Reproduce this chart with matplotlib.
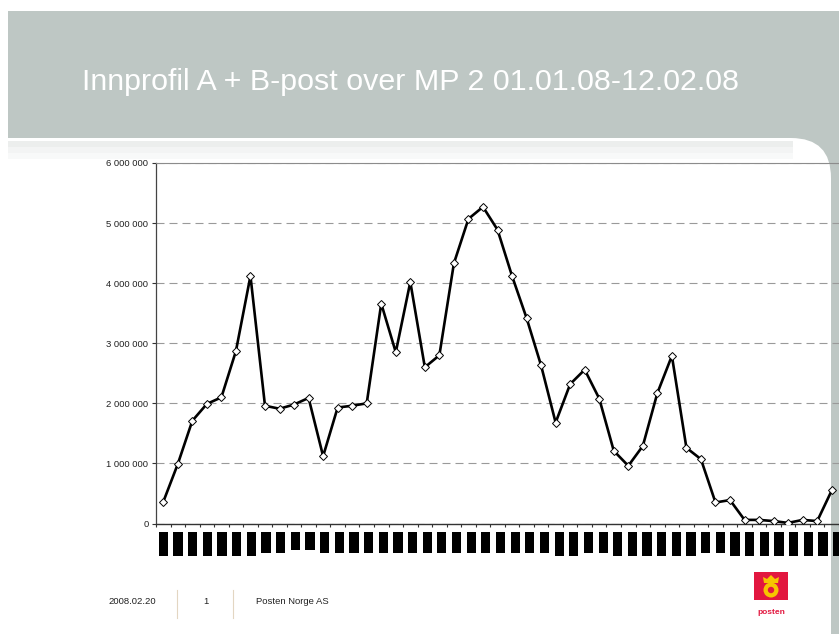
import numpy as np
import matplotlib
matplotlib.use("Agg")
import matplotlib.pyplot as plt
from matplotlib.patches import Rectangle, FancyBboxPatch, Circle, Polygon

plt.rcParams["font.family"] = "Liberation Sans"

# daily volume A + B-post over MP 2
values = [360000, 990000, 1710000, 1990000, 2100000, 2870000, 4120000,
          1960000, 1910000, 1980000, 2090000, 1120000, 1930000, 1960000,
          2000000, 3660000, 2850000, 4020000, 2600000, 2800000, 4330000,
          5070000, 5270000, 4890000, 4120000, 3420000, 2630000, 1680000,
          2320000, 2560000, 2080000, 1210000, 960000, 1290000, 2170000,
          2790000, 1260000, 1070000, 350000, 390000, 60000, 60000,
          40000, 10000, 60000, 40000, 550000]

# the x labels come out as black blocks; length of each block
block_len = [8, 8, 8, 8, 8, 8, 8, 7, 7, 6, 6, 7, 7, 7, 7, 7, 7, 7, 7, 7,
             7, 7, 7, 7, 7, 7, 7, 8, 8, 7, 7, 8, 8, 8, 8, 8, 8, 7, 7, 8,
             8, 8, 8, 8, 8, 8, 8]

y_ticks = [0, 1000000, 2000000, 3000000, 4000000, 5000000, 6000000]
y_labels = ["0", "1 000 000", "2 000 000", "3 000 000", "4 000 000",
            "5 000 000", "6 000 000"]

title = "Innprofil A + B-post over MP 2 01.01.08-12.02.08"
footer = ["2008.02.20", "1", "Posten Norge AS"]

W, H = 839, 634
fig = plt.figure(figsize=(W / 100, H / 100), dpi=100)
fig.patch.set_facecolor("white")


def fx(x):
    return x / W


def fy(y):
    return 1 - y / H


# slide background: grey header band + rounded white card
gray = "#bec7c4"
fig.add_artist(Rectangle((8, 0), W - 8, H - 11, transform=None,
                         facecolor=gray, edgecolor="none", zorder=-10))
fig.add_artist(FancyBboxPatch((-60, -66), 891, H - 138 + 66, transform=None,
                              boxstyle="round,pad=0,rounding_size=40",
                              facecolor="white", edgecolor="none", zorder=-9))
# faint shadow under the band
for i, c in enumerate(["#eceeed", "#f3f4f4", "#f8f9f9"]):
    fig.add_artist(Rectangle((8, H - 141 - 6 * (i + 1)), 785, 6,
                             transform=None, facecolor=c,
                             edgecolor="none", zorder=-8))

fig.text(fx(82), fy(89.5), title, color="white", fontsize=21.9,
         ha="left", va="baseline")

# main chart
x = np.arange(len(values))
x_right = -0.5 + (W - 156) / 14.66

ax = fig.add_axes([fx(156), fy(523.5), 1 - fx(156), (523.5 - 163) / H])
ax.set_facecolor("none")
ax.plot(x, values, color="black", lw=1.9, marker="D", markersize=3.8,
        markerfacecolor="white", markeredgecolor="black",
        markeredgewidth=0.7, zorder=3)
ax.set_xlim(-0.5, x_right)
ax.set_ylim(0, 6000000)
ax.set_yticks(y_ticks)
ax.set_yticklabels(y_labels)
ax.set_xticks(np.arange(-0.5, len(values) + 0.5, 1))
ax.set_xticklabels([])
ax.tick_params(axis="y", length=2.9, width=0.8, pad=2.5, labelsize=6.8,
               color="#333333", labelcolor="#222222")
ax.tick_params(axis="x", length=2.3, width=0.8, color="#333333")
ax.grid(axis="y", color="#9a9a9a", lw=0.8, linestyle=(0, (7.2, 4.5)))
ax.set_axisbelow(True)
ax.spines["right"].set_visible(False)
ax.spines["top"].set_color("#8c8c8c")
ax.spines["top"].set_linewidth(0.8)
ax.spines["top"].set_linestyle((0, (9, 1)))
ax.spines["left"].set_color("#444444")
ax.spines["left"].set_linewidth(0.9)
ax.spines["bottom"].set_color("#333333")
ax.spines["bottom"].set_linewidth(1.0)

# black label blocks under the axis
ax2 = fig.add_axes([fx(156), fy(556), 1 - fx(156), 24.3 / H])
ax2.set_facecolor("none")
ax2.bar(x, block_len, width=0.63, color="black")
ax2.set_xlim(-0.5, x_right)
ax2.set_ylim(8, 0)
ax2.axis("off")

# footer
fig.text(fx(108), fy(601), footer[0], fontsize=6.8, color="#222222",
         ha="left", va="center")
fig.text(fx(205.5), fy(601), footer[1], fontsize=6.8, color="#222222",
         ha="center", va="center")
fig.text(fx(256), fy(601), footer[2], fontsize=6.8, color="#222222",
         ha="left", va="center")
for sx in [177.3, 233.3]:
    fig.add_artist(plt.Line2D([fx(sx), fx(sx)], [fy(590), fy(618)],
                              color="#e3d6c2", lw=0.8))

# posten logo
red = "#e2173f"
yellow = "#f6c500"
fig.add_artist(Rectangle((754, H - 600), 34, 28, transform=None,
                         facecolor=red, edgecolor="none"))
fig.add_artist(Polygon([(764, H - 583), (778, H - 583), (779, H - 577),
                        (775, H - 579), (771, H - 575), (767, H - 579),
                        (763, H - 577)], closed=True, transform=None,
                       facecolor=yellow, edgecolor="none"))
fig.add_artist(Circle((771, H - 590), 7.5, transform=None,
                      facecolor=yellow, edgecolor="none"))
fig.add_artist(Circle((771, H - 590), 3.2, transform=None,
                      facecolor=red, edgecolor="none"))
fig.text(fx(771), fy(613), "posten", fontsize=6, color=red,
         fontweight="bold", ha="center", va="center")

fig.savefig("out.png", dpi=100)
